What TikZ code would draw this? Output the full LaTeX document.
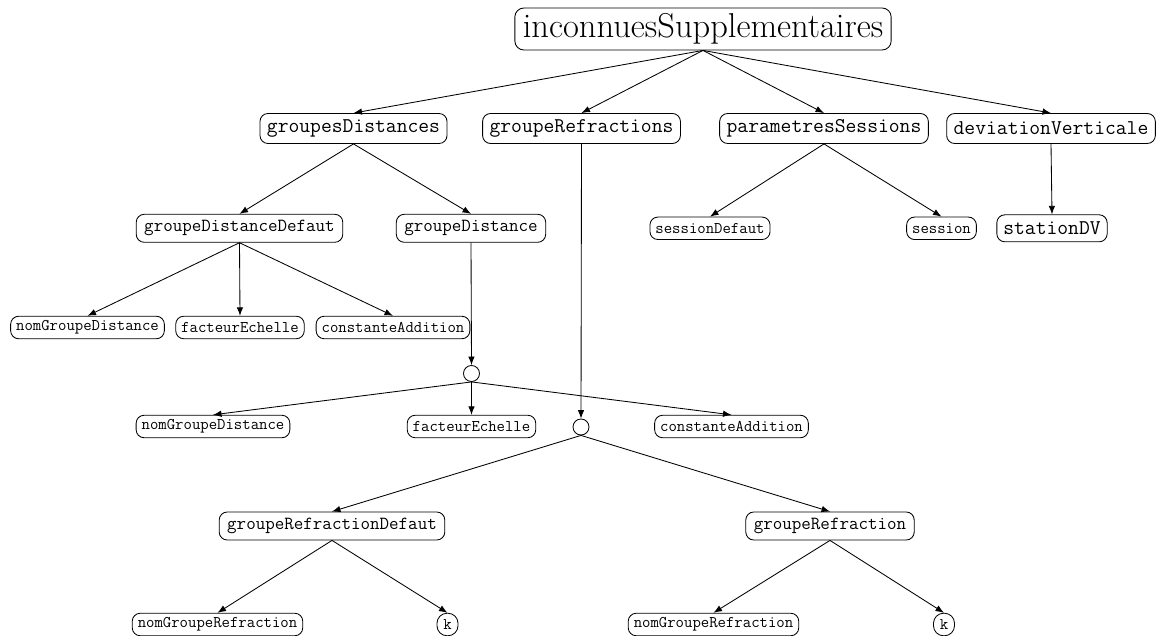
\documentclass[tikz,border=0pt]{standalone}
\usepackage{fontspec}
\usetikzlibrary{arrows.meta}
\begin{document}
\begin{tikzpicture}[x=1pt,y=-1pt,
  box/.style={draw, line width=0.85pt, rounded corners=8pt, font=\ttfamily, inner ysep=0pt, align=center},
  rootbox/.style={box, font=\fontsize{34.5}{40}\selectfont, minimum height=42pt, inner xsep=8pt, rounded corners=9pt},
  bigbox/.style={box, font=\ttfamily\fontsize{21}{25}\selectfont, minimum height=30pt, inner xsep=7pt},
  midbox/.style={box, font=\ttfamily\fontsize{18.5}{22}\selectfont, minimum height=28pt, inner xsep=8pt},
  leafbox/.style={box, font=\ttfamily\fontsize{16.3}{20}\selectfont, minimum height=22.5pt, inner xsep=5.5pt},
  kbox/.style={leafbox, minimum width=21pt, inner xsep=0pt, rounded corners=10pt},
  choice/.style={draw, circle, line width=0.85pt, minimum size=16pt, inner sep=0pt},
  link/.style={line width=0.85pt, -{Latex[length=8.5pt,width=6.5pt]}}]
\useasboundingbox (0,0) rectangle (1162,636);

% root
\node[rootbox] (root) at (703,29) {inconnuesSupplementaires};

% first level
\node[bigbox] (gdists) at (353.5,128.5) {groupesDistances};
\node[bigbox] (grefrs) at (581.5,128.5) {groupeRefractions};
\node[bigbox] (psess)  at (824,128.5)   {parametresSessions};
\node[bigbox] (devv)   at (1051,128.5)  {deviationVerticale};

% second level
\node[midbox] (gdd)  at (239.5,228.3) {groupeDistanceDefaut};
\node[midbox] (gd)   at (471,228.3)   {groupeDistance};
\node[leafbox] (sdef) at (710,228.3)  {sessionDefaut};
\node[leafbox] (sess) at (941.5,228.3) {session};
\node[bigbox, minimum height=27pt, inner xsep=6.5pt] (stdv) at (1052,228.3) {stationDV};

% children of groupeDistanceDefaut
\node[leafbox] (nomA) at (87.5,327.5) {nomGroupeDistance};
\node[leafbox] (facA) at (240,327.5)  {facteurEchelle};
\node[leafbox] (conA) at (393,327.5)  {constanteAddition};

% choice under groupeDistance
\node[choice] (chA) at (471.5,373.5) {};
\node[leafbox] (nomB) at (213,426.5)   {nomGroupeDistance};
\node[leafbox] (facB) at (471.5,426.5) {facteurEchelle};
\node[leafbox] (conB) at (731.5,426.5) {constanteAddition};

% choice under groupeRefractions
\node[choice] (chB) at (581,427) {};
\node[midbox] (grd) at (332,526)  {groupeRefractionDefaut};
\node[midbox] (gr)  at (830,526)  {groupeRefraction};

% leaves of the refraction groups
\node[leafbox] (nrA) at (217.5,624.5) {nomGroupeRefraction};
\node[kbox]    (kA)  at (447.5,624.5) {k};
\node[leafbox] (nrB) at (713.5,624.5) {nomGroupeRefraction};
\node[kbox]    (kB)  at (944,624.5)   {k};

% connectors
\foreach \c in {gdists,grefrs,psess,devv}
  \draw[link] (root.south) -- (\c.north);
\draw[link] (gdists.south) -- (gdd.north);
\draw[link] (gdists.south) -- (gd.north);
\draw[link] (psess.south) -- (sdef.north);
\draw[link] (psess.south) -- (sess.north);
\draw[link] (devv.south) -- (stdv.north);
\foreach \c in {nomA,facA,conA}
  \draw[link] (gdd.south) -- (\c.north);
\draw[link] (gd.south) -- (chA.north);
\foreach \c in {nomB,facB,conB}
  \draw[link] (chA.south) -- (\c.north);
\draw[link] (grefrs.south) -- (chB.north);
\draw[link] (chB.south) -- (grd.north);
\draw[link] (chB.south) -- (gr.north);
\draw[link] (grd.south) -- (nrA.north);
\draw[link] (grd.south) -- (kA.north);
\draw[link] (gr.south) -- (nrB.north);
\draw[link] (gr.south) -- (kB.north);
\end{tikzpicture}
\end{document}
